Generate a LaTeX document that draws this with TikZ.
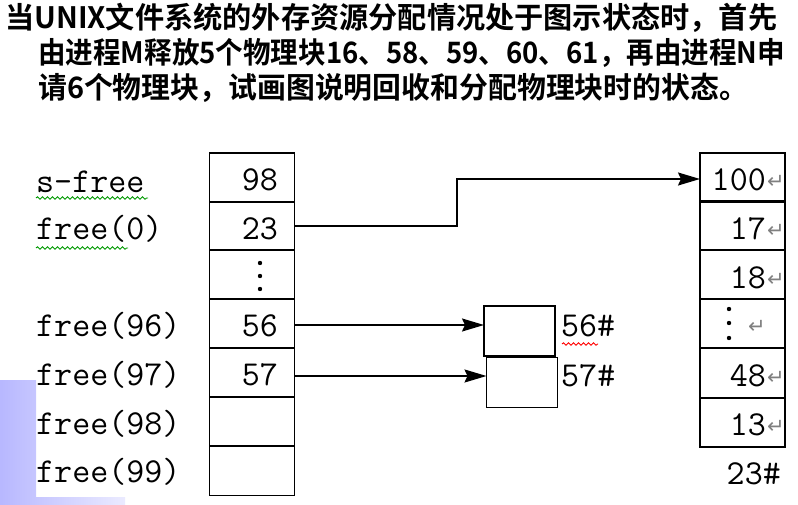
\documentclass[tikz,border=0pt]{standalone}
\usepackage{fontspec}
\newfontfamily\cjk{Noto Sans CJK SC}[BoldFont=* Bold]
\newfontfamily\djv{DejaVu Sans}
\usetikzlibrary{arrows.meta,decorations.pathmorphing}
\newcommand\fitw[2]{\setbox0\hbox{#2}\pgfmathsetmacro\myscl{#1/\wd0}\scalebox{\myscl}[1]{\box0}}
\begin{document}
\begin{tikzpicture}[x=1pt,y=-1pt,
  cellbox/.style={draw,line width=1.3pt,minimum width=85pt,minimum height=49pt,inner sep=0pt,outer sep=0pt},
  midbox/.style={draw,line width=1.8pt,minimum width=71pt,minimum height=50pt,inner sep=0pt,outer sep=0pt},
  mono/.style={font=\fontsize{35}{35}\selectfont\ttfamily,inner sep=0pt},
  title/.style={font=\fontsize{29.5}{30}\selectfont\cjk\bfseries,inner sep=0pt,anchor=west},
  ret/.style={font=\fontsize{21}{21}\selectfont\djv,text=gray,inner sep=0pt},
  link/.style={line width=1.5pt,-{Stealth[length=22pt,width=13pt,inset=3pt]}},
  squig/.style={decorate,decoration={snake,segment length=5pt,amplitude=1.2pt},line width=0.9pt}]
\useasboundingbox (0,0) rectangle (798,505);
% background decoration
\shade[left color=blue!28!white,right color=blue!8!white] (0,380) -- (36,380) -- (36,497) -- (125,497) -- (125,505) -- (0,505) -- cycle;
% title
\node[title] (t1) at (5,18) {\fitw{772}{当UNIX文件系统的外存资源分配情况处于图示状态时，首先}};
\node[title] (t2) at (38,53) {\fitw{747}{由进程M释放5个物理块16、58、59、60、61，再由进程N申}};
\node[title] (t3) at (38,88) {\fitw{710}{请6个物理块，试画图说明回收和分配物理块时的状态。}};
% left table
\foreach \i/\y in {1/177.5,2/226,3/274.5,4/323.5,5/372.5,6/421.5,7/471}{
  \node[cellbox] (L\i) at (252,\y) {};
}
\node[mono,anchor=east] (v1) at (278,180) {98};
\node[mono,anchor=east] (v2) at (278,229) {23};
\node[mono,anchor=east] (v4) at (278,326) {56};
\node[mono,anchor=east] (v5) at (278,375) {57};
\fill (260,263) circle (2.2) (260,276) circle (2.2) (260,289) circle (2.2);
% left labels
\node[mono,anchor=west] (s) at (36,182) {s-free};
\node[mono,anchor=west] (f0) at (36,229) {free(0)};
\node[mono,anchor=west] (f96) at (36,326) {free(96)};
\node[mono,anchor=west] (f97) at (36,375) {free(97)};
\node[mono,anchor=west] (f98) at (36,424) {free(98)};
\node[mono,anchor=west] (f99) at (36,472) {free(99)};
\draw[squig,green!60!black] (36,198) -- (148,198);
\draw[squig,green!60!black] (36,248) -- (128,248);
% right table
\foreach \i/\y in {1/177.5,2/225.5,3/274,4/323.5,5/373,6/422.5}{
  \node[cellbox] (R\i) at (742.5,\y) {};
}
\node[mono,anchor=east] (r1) at (766,180) {100};
\node[mono,anchor=east] (r2) at (766,229) {17};
\node[mono,anchor=east] (r3) at (766,278) {18};
\node[mono,anchor=east] (r5) at (766,376) {48};
\node[mono,anchor=east] (r6) at (766,425) {13};
\fill (729,309) circle (2.2) (729,323) circle (2.2) (729,338) circle (2.2);
\node[ret] (k1) at (776,182) {↵};
\node[ret] (k2) at (776,231) {↵};
\node[ret] (k3) at (776,280) {↵};
\node[ret] (k4) at (757,327) {↵};
\node[ret] (k5) at (776,378) {↵};
\node[ret] (k6) at (776,427) {↵};
\node[mono,anchor=east] (r7) at (781,474) {23\#};
% middle blocks
\node[midbox] (b1) at (519.5,331) {};
\node[midbox] (b2) at (522,382.5) {};
\node[mono,anchor=west] (n1) at (561,326) {56\#};
\node[mono,anchor=west] (n2) at (561,376) {57\#};
\draw[squig,red] (562,344) -- (598,344);
% connectors
\draw[link] (L2.east) -- (457,226) -- (457,179) -- (R1.west |- 0,179);
\draw[link] (L4.east |- 0,325) -- (b1.west |- 0,325);
\draw[link] (L5.east |- 0,376) -- (b2.west |- 0,376);
\end{tikzpicture}
\end{document}
